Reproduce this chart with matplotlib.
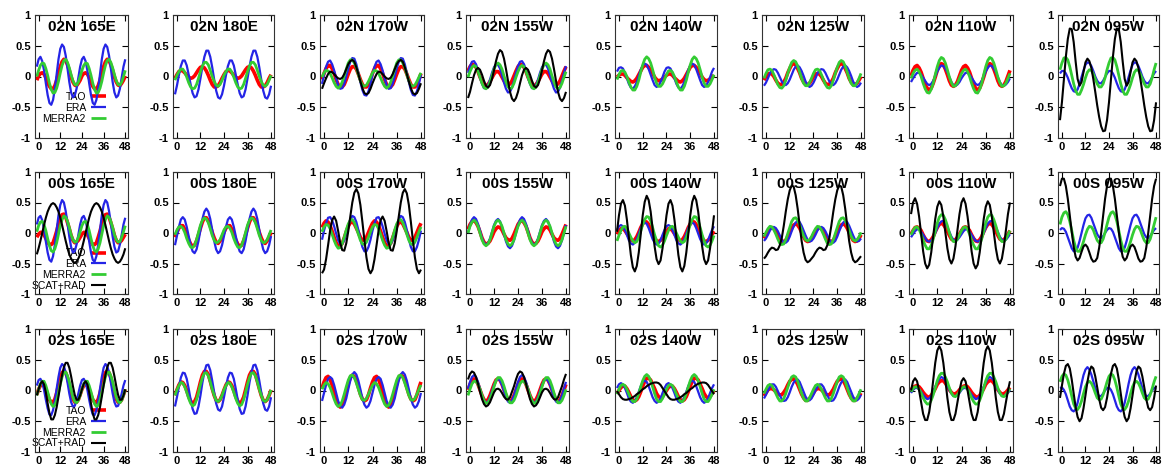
import numpy as np
import matplotlib
matplotlib.use("Agg")
import matplotlib.pyplot as plt

plt.rcParams['font.family'] = ['Liberation Sans', 'DejaVu Sans']
plt.rcParams['axes.unicode_minus'] = False

# Composite diurnal cycle (local hour 0..23), in hundredths; shown over two days
lats = ["02N", "00S", "02S"]
lons = ["165E", "180E", "170W", "155W", "140W", "125W", "110W", "095W"]
xticks = [0, 12, 24, 36, 48]
yticks = [-1, -0.5, 0, 0.5, 1]
yticklabels = ["-1", "-0.5", "0", "0.5", "1"]

tao = {
    "02N 165E": [1,5,6,4,-2,-10,-16,-20,-20,-15,-6,6,16,24,28,26,19,10,-1,-9,-14,-15,-11,-6],
    "02N 180E": [3,8,10,9,6,2,-1,-3,-2,1,6,11,15,16,14,9,2,-6,-13,-17,-17,-15,-10,-3],
    "02N 170W": [5,13,18,18,13,5,-5,-13,-17,-17,-13,-5,4,12,16,16,12,4,-5,-13,-17,-17,-13,-5],
    "02N 155W": [16,20,19,15,8,-1,-8,-14,-15,-13,-8,-2,4,8,8,5,-1,-7,-12,-14,-12,-7,1,9],
    "02N 140W": [2,4,4,2,-2,-5,-8,-9,-7,-3,3,9,15,18,18,15,10,5,-1,-5,-7,-6,-4,-1],
    "02N 125W": [0,4,5,4,0,-6,-11,-13,-13,-9,-3,6,13,19,21,19,13,6,-3,-9,-13,-13,-11,-6],
    "02N 110W": [10,16,18,14,7,-3,-13,-19,-22,-19,-11,-1,10,17,21,19,12,3,-7,-14,-16,-14,-8,1],
    "00S 165E": [-2,1,1,-3,-9,-15,-19,-19,-16,-7,3,15,24,30,31,26,17,7,-4,-12,-16,-15,-12,-7],
    "00S 180E": [1,8,12,12,6,-2,-11,-18,-22,-20,-13,-3,8,18,25,25,20,12,1,-8,-15,-17,-13,-7],
    "00S 170W": [16,20,18,12,3,-7,-16,-21,-21,-17,-8,2,11,17,18,15,8,1,-7,-12,-11,-7,1,9],
    "00S 155W": [14,19,20,17,11,2,-8,-15,-18,-17,-13,-6,2,7,10,9,5,-2,-8,-11,-12,-9,-2,6],
    "00S 140W": [3,7,7,4,-1,-6,-11,-13,-11,-6,1,9,15,19,18,14,8,0,-8,-13,-14,-12,-8,-2],
    "00S 125W": [-3,3,7,9,7,3,-3,-9,-13,-14,-12,-6,1,8,13,15,13,8,1,-6,-12,-14,-13,-9],
    "00S 110W": [4,9,10,8,4,-3,-9,-13,-14,-11,-6,2,9,14,16,14,9,3,-4,-10,-12,-11,-7,-2],
    "02S 165E": [2,8,10,8,2,-7,-15,-19,-19,-14,-4,9,21,29,32,29,21,9,-4,-14,-19,-19,-15,-7],
    "02S 180E": [1,9,14,13,8,0,-10,-17,-21,-18,-11,1,14,25,31,31,26,15,3,-8,-16,-18,-15,-8],
    "02S 170W": [14,21,23,18,9,-3,-15,-24,-27,-23,-14,-2,11,21,25,23,16,5,-6,-14,-17,-15,-7,4],
    "02S 155W": [10,17,19,17,10,1,-8,-15,-17,-15,-8,1,10,17,19,17,10,1,-8,-15,-17,-15,-8,1],
    "02S 140W": [0,5,7,7,3,-3,-10,-15,-17,-15,-10,-2,7,15,20,20,17,10,3,-5,-10,-12,-10,-5],
    "02S 125W": [-4,1,3,3,1,-2,-6,-7,-7,-3,2,9,15,18,19,16,10,2,-6,-12,-16,-16,-13,-9],
    "02S 110W": [5,7,8,6,2,-3,-7,-10,-11,-8,-3,3,10,14,16,16,12,7,1,-3,-6,-5,-3,1],
}

era = {
    "02N 165E": [28,32,25,10,-11,-30,-43,-46,-38,-20,4,28,45,52,48,34,13,-9,-26,-34,-31,-20,-2,16],
    "02N 180E": [-15,2,17,26,26,18,3,-13,-27,-34,-32,-21,-3,16,32,42,42,32,15,-5,-23,-34,-36,-29],
    "02N 170W": [3,16,24,26,20,10,-3,-14,-20,-19,-12,0,13,24,30,29,20,6,-9,-22,-30,-31,-24,-12],
    "02N 155W": [17,24,25,20,10,-2,-12,-19,-19,-14,-5,6,15,20,19,13,2,-10,-20,-26,-25,-18,-7,6],
    "02N 140W": [14,15,13,6,-3,-12,-18,-20,-16,-9,1,11,18,21,19,12,3,-6,-14,-17,-15,-9,-1,8],
    "02N 125W": [-10,-3,5,10,12,11,6,-1,-8,-12,-14,-11,-5,3,11,16,18,15,9,1,-8,-14,-17,-15],
    "02N 110W": [-3,2,6,6,3,-2,-7,-12,-14,-12,-7,0,8,14,18,17,13,7,-1,-9,-14,-15,-13,-9],
    "02N 095W": [9,9,5,-2,-11,-19,-24,-25,-21,-12,-1,10,19,23,22,17,9,0,-7,-11,-11,-7,-1,5],
    "00S 165E": [25,28,21,6,-14,-32,-44,-47,-38,-19,5,29,46,54,50,36,16,-6,-23,-32,-30,-19,-3,14],
    "00S 180E": [-5,10,22,26,22,10,-5,-20,-30,-33,-27,-13,5,23,35,40,35,23,5,-13,-27,-33,-30,-20],
    "00S 170W": [4,16,25,26,21,11,-1,-12,-18,-18,-12,0,12,22,28,26,18,5,-10,-23,-30,-30,-23,-11],
    "00S 155W": [13,22,26,23,15,4,-8,-16,-19,-17,-9,2,13,20,23,19,10,-2,-14,-22,-25,-21,-12,0],
    "00S 140W": [11,13,11,5,-3,-12,-17,-19,-16,-10,-1,8,15,17,15,8,-1,-10,-16,-19,-17,-12,-3,5],
    "00S 125W": [-9,-3,4,9,10,8,3,-4,-11,-16,-16,-13,-6,3,11,17,20,18,12,4,-4,-11,-14,-13],
    "00S 110W": [-2,3,6,6,2,-3,-8,-13,-14,-13,-7,0,8,15,19,20,16,10,2,-6,-11,-13,-11,-7],
    "00S 095W": [8,7,2,-7,-16,-25,-30,-29,-24,-13,0,13,24,29,30,25,16,7,-2,-7,-8,-5,0,5],
    "02S 165E": [17,19,13,1,-15,-29,-39,-40,-32,-17,3,22,37,43,40,29,13,-5,-19,-26,-25,-17,-5,8],
    "02S 180E": [-11,6,21,29,28,19,3,-15,-30,-38,-37,-26,-8,13,30,41,42,33,16,-3,-21,-31,-33,-26],
    "02S 170W": [-4,9,19,22,19,9,-4,-17,-25,-28,-23,-13,2,16,26,30,26,16,2,-13,-23,-28,-25,-17],
    "02S 155W": [14,22,25,22,14,3,-8,-16,-20,-18,-11,-1,9,16,19,16,9,-1,-11,-18,-20,-16,-8,3],
    "02S 140W": [10,12,10,4,-4,-13,-18,-20,-17,-11,-2,7,14,16,14,7,-2,-11,-17,-20,-18,-13,-4,4],
    "02S 125W": [-7,0,6,10,10,6,-1,-8,-14,-17,-16,-11,-3,6,13,17,18,14,6,-2,-10,-15,-16,-13],
    "02S 110W": [1,4,4,2,-2,-7,-11,-14,-13,-9,-3,6,13,19,22,20,16,9,1,-5,-9,-9,-7,-4],
    "02S 095W": [5,1,-6,-16,-26,-32,-34,-30,-20,-5,11,25,34,38,34,26,15,4,-5,-9,-9,-5,0,4],
}

merra2 = {
    "02N 165E": [10,18,22,21,13,2,-11,-21,-27,-26,-19,-8,6,18,26,28,23,14,3,-7,-13,-14,-9,0],
    "02N 180E": [2,8,12,12,7,-1,-10,-17,-20,-19,-13,-3,8,17,23,23,19,10,0,-8,-14,-16,-13,-6],
    "02N 170W": [6,10,9,5,-2,-10,-16,-19,-16,-9,1,12,22,27,27,22,14,3,-7,-14,-16,-14,-8,-1],
    "02N 155W": [8,15,18,16,8,-1,-11,-18,-20,-17,-9,1,12,19,22,19,12,1,-9,-17,-20,-18,-11,-1],
    "02N 140W": [3,9,10,7,0,-9,-17,-22,-22,-16,-6,7,19,28,32,29,22,11,-1,-11,-16,-16,-12,-5],
    "02N 125W": [5,11,12,10,3,-5,-13,-18,-19,-15,-6,5,15,23,26,24,17,7,-3,-11,-15,-15,-10,-3],
    "02N 110W": [5,10,12,8,0,-11,-20,-26,-27,-21,-11,3,16,26,31,29,22,11,-1,-10,-16,-15,-11,-3],
    "02N 095W": [22,30,31,27,16,2,-12,-23,-29,-29,-22,-13,-2,7,11,10,4,-4,-12,-17,-17,-12,-2,11],
    "00S 165E": [12,18,19,14,4,-9,-21,-29,-31,-26,-16,-2,12,22,28,26,19,9,-3,-11,-15,-14,-7,2],
    "00S 180E": [5,10,11,8,1,-9,-17,-23,-24,-20,-11,1,13,21,25,23,17,7,-4,-12,-16,-15,-11,-3],
    "00S 170W": [10,14,13,7,-2,-12,-20,-25,-24,-17,-7,5,15,21,22,17,8,-2,-12,-18,-19,-15,-7,2],
    "00S 155W": [11,18,21,18,11,0,-11,-18,-21,-18,-11,0,11,18,21,18,11,0,-11,-18,-21,-18,-11,0],
    "00S 140W": [-4,4,10,11,7,0,-7,-13,-16,-14,-7,3,14,22,27,26,20,9,-3,-13,-21,-23,-20,-13],
    "00S 125W": [1,7,11,10,5,-2,-10,-17,-19,-18,-11,-1,9,19,24,25,21,13,4,-5,-11,-13,-11,-6],
    "00S 110W": [4,9,10,6,-2,-12,-20,-26,-26,-20,-10,3,16,26,30,29,22,12,0,-9,-14,-14,-10,-3],
    "00S 095W": [26,33,35,30,19,4,-12,-24,-30,-30,-24,-14,-3,6,11,10,5,-4,-12,-16,-16,-10,1,14],
    "02S 165E": [2,11,15,15,8,-2,-13,-22,-26,-24,-16,-4,10,22,29,30,24,14,1,-11,-18,-20,-16,-8],
    "02S 180E": [1,8,13,12,6,-3,-13,-21,-25,-23,-15,-3,10,21,28,29,24,14,2,-8,-16,-18,-15,-8],
    "02S 170W": [9,13,11,5,-4,-14,-22,-26,-24,-17,-6,6,17,24,25,21,12,2,-8,-15,-16,-13,-6,2],
    "02S 155W": [2,11,15,15,10,2,-8,-17,-21,-20,-14,-5,6,16,21,21,16,7,-4,-14,-20,-20,-16,-8],
    "02S 140W": [2,8,10,8,2,-6,-13,-18,-18,-14,-5,6,16,23,26,23,16,6,-5,-14,-18,-18,-13,-6],
    "02S 125W": [2,8,10,8,2,-5,-12,-17,-17,-13,-5,5,15,22,24,22,15,5,-5,-13,-17,-17,-12,-5],
    "02S 110W": [3,6,6,2,-4,-12,-18,-22,-22,-16,-7,4,16,24,28,28,22,14,4,-4,-9,-10,-7,-2],
    "02S 095W": [23,27,25,17,5,-9,-22,-29,-31,-26,-17,-5,6,13,15,12,5,-4,-12,-15,-14,-7,3,14],
}

scat_rad = {
    "02N 170W": [-11,-3,4,8,7,4,0,-3,-4,-2,4,12,20,25,27,24,15,4,-8,-19,-27,-29,-27,-20],
    "02N 155W": [-25,-11,2,11,14,11,3,-7,-15,-18,-14,-4,10,25,37,43,40,29,12,-7,-25,-36,-40,-35],
    "02N 095W": [-42,-5,32,61,78,77,56,24,-4,-15,-9,7,23,29,25,14,-4,-25,-47,-66,-81,-89,-88,-71],
    "00S 165E": [-25,-13,0,13,25,35,42,47,49,47,42,35,25,13,0,-13,-25,-35,-42,-47,-49,-47,-42,-35],
    "00S 170W": [-60,-43,-20,4,21,27,20,3,-16,-28,-29,-17,3,27,50,66,72,65,46,18,-12,-40,-59,-66],
    "00S 140W": [29,48,54,45,22,-7,-36,-56,-63,-54,-32,-2,29,51,61,54,35,7,-22,-43,-51,-45,-25,2],
    "00S 125W": [-38,-32,-27,-24,-25,-28,-27,-20,-8,12,35,55,70,78,76,62,40,13,-13,-32,-44,-48,-46,-42],
    "00S 110W": [50,57,48,27,-1,-30,-50,-58,-52,-32,-5,23,43,52,46,27,1,-25,-43,-50,-42,-22,5,31],
    "00S 095W": [89,89,77,56,29,2,-23,-39,-45,-41,-31,-22,-19,-23,-32,-42,-47,-46,-41,-24,0,28,56,77],
    "02S 165E": [2,11,15,10,-3,-21,-37,-47,-47,-40,-27,-10,8,25,38,45,45,37,23,7,-7,-15,-15,-8],
    "02S 155W": [27,31,29,22,11,-2,-14,-22,-26,-24,-19,-11,-3,2,3,1,-4,-10,-14,-15,-11,-2,7,18],
    "02S 140W": [-6,-11,-14,-15,-15,-14,-13,-11,-9,-6,-4,-1,2,4,7,9,11,12,13,13,12,9,4,-1],
    "02S 110W": [15,20,15,0,-19,-38,-48,-48,-35,-12,17,45,65,72,65,45,17,-12,-35,-48,-48,-38,-19,0],
    "02S 095W": [8,27,40,43,36,18,-5,-27,-43,-50,-45,-29,-8,14,31,39,36,23,5,-14,-28,-32,-27,-12],
}

products = [
    ("TAO", tao, "#ff0000", 2.6),
    ("ERA", era, "#2424e6", 1.6),
    ("MERRA2", merra2, "#33cc33", 2.0),
    ("SCAT+RAD", scat_rad, "#000000", 1.5),
]

# Hours shown: from the last hour of the previous day through two full days
hours = np.arange(-1, 49)

W, H = 1169, 472
fig = plt.figure(figsize=(W / 100, H / 100), dpi=100)
lefts = [35, 173, 320, 466, 615, 762, 909, 1058]
rights = [128, 274, 424, 569, 717, 864, 1013, 1159]
tops = [15, 172, 329]
bottoms = [138, 294, 452]

for r, lat in enumerate(lats):
    for c, lon in enumerate(lons):
        ax = fig.add_axes([lefts[c] / W, 1 - bottoms[r] / H,
                           (rights[c] - lefts[c]) / W, (bottoms[r] - tops[r]) / H])
        site = f"{lat} {lon}"
        for name, table, color, lw in products:
            if site in table:
                day = np.asarray(table[site], dtype=float) / 100.0
                ax.plot(hours, day[hours % 24], color=color, lw=lw, label=name,
                        solid_capstyle='butt')
        ax.set_xlim(-2, 49.5)
        ax.set_ylim(-1, 1)
        ax.set_xticks(xticks)
        ax.set_yticks(yticks)
        ax.set_yticklabels(yticklabels)
        ax.tick_params(direction='in', length=4, width=0.8, labelsize=8, pad=3,
                       top=True, right=True)
        for lab in ax.get_xticklabels() + ax.get_yticklabels():
            lab.set_fontweight('bold')
        for sp in ax.spines.values():
            sp.set_linewidth(0.8)
            sp.set_color('#333333')
        ax.text(0.5, 0.9, site, transform=ax.transAxes, ha='center', va='center',
                fontsize=11, fontweight='bold', zorder=1)
        if c == 0:
            leg = ax.legend(loc='upper right', bbox_to_anchor=(0.76, 0.375),
                            markerfirst=False, frameon=False, fontsize=7.5,
                            handlelength=1.4, handletextpad=0.5, labelspacing=0.08,
                            borderpad=0, borderaxespad=0)
            leg.set_zorder(1)

fig.savefig("out.png", dpi=100)
